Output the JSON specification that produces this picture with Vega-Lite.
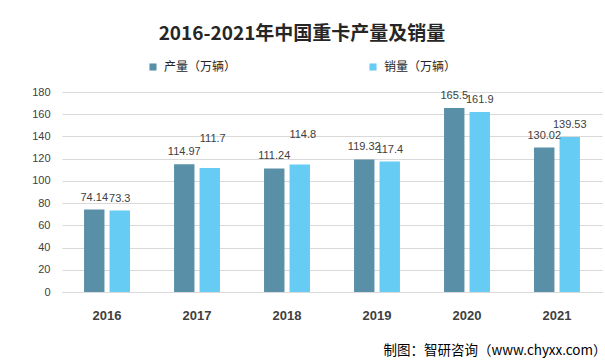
{
  "$schema": "https://vega.github.io/schema/vega-lite/v6.json",
  "width": 540,
  "height": 200,
  "autosize": {"type": "none"},
  "padding": {"left": 62, "top": 92, "right": 3, "bottom": 72},
  "background": "#ffffff",
  "title": {
    "text": "2016-2021年中国重卡产量及销量",
    "font": "Noto Sans CJK SC",
    "fontSize": 19,
    "fontWeight": "bold",
    "color": "#262626",
    "anchor": "middle",
    "frame": "group",
    "dx": -30,
    "offset": 17
  },
  "data": {
    "values": [
      {"year": "2016", "type": "产量（万辆）", "value": 74.14},
      {"year": "2016", "type": "销量（万辆）", "value": 73.3},
      {"year": "2017", "type": "产量（万辆）", "value": 114.97},
      {"year": "2017", "type": "销量（万辆）", "value": 111.7},
      {"year": "2018", "type": "产量（万辆）", "value": 111.24},
      {"year": "2018", "type": "销量（万辆）", "value": 114.8},
      {"year": "2019", "type": "产量（万辆）", "value": 119.32},
      {"year": "2019", "type": "销量（万辆）", "value": 117.4},
      {"year": "2020", "type": "产量（万辆）", "value": 165.5},
      {"year": "2020", "type": "销量（万辆）", "value": 161.9},
      {"year": "2021", "type": "产量（万辆）", "value": 130.02},
      {"year": "2021", "type": "销量（万辆）", "value": 139.53}
    ]
  },
  "encoding": {
    "x": {
      "field": "year",
      "type": "nominal",
      "scale": {"paddingInner": 0.433, "paddingOuter": 0.2167},
      "axis": {
        "title": "制图：智研咨询（www.chyxx.com）",
        "titleX": 544,
        "titleY": 58,
        "titleAlign": "right",
        "titleBaseline": "middle",
        "titleFont": "Noto Sans CJK SC",
        "titleFontSize": 13.5,
        "titleFontWeight": "normal",
        "titleColor": "#000000",
        "labelAngle": 0,
        "labelFont": "Liberation Sans",
        "labelFontSize": 13,
        "labelFontWeight": "bold",
        "labelColor": "#404040",
        "labelPadding": 17,
        "ticks": false,
        "domain": true,
        "domainColor": "#d9d9d9"
      }
    },
    "xOffset": {
      "field": "type",
      "type": "nominal",
      "sort": ["产量（万辆）", "销量（万辆）"],
      "scale": {"paddingInner": 0.2, "paddingOuter": 0.1}
    },
    "y": {
      "field": "value",
      "type": "quantitative",
      "scale": {"domain": [0, 180]},
      "axis": {
        "title": null,
        "values": [0, 20, 40, 60, 80, 100, 120, 140, 160, 180],
        "domain": false,
        "ticks": false,
        "grid": true,
        "gridColor": "#d9d9d9",
        "labelFont": "Liberation Sans",
        "labelFontSize": 11,
        "labelColor": "#404040",
        "labelPadding": 12
      }
    }
  },
  "layer": [
    {
      "mark": {"type": "bar"},
      "encoding": {
        "color": {
          "field": "type",
          "type": "nominal",
          "scale": {"domain": ["产量（万辆）", "销量（万辆）"], "range": ["#5A8FA8", "#66CCF4"]},
          "legend": {
            "title": null,
            "orient": "none",
            "direction": "horizontal",
            "legendX": 85,
            "legendY": -31,
            "padding": 0,
            "columnPadding": 130,
            "symbolType": "square",
            "symbolSize": 50,
            "symbolStrokeWidth": 0,
            "labelFont": "Noto Sans CJK SC",
            "labelFontSize": 12,
            "labelColor": "#262626",
            "labelOffset": 5
          }
        }
      }
    },
    {
      "transform": [{"filter": "!(datum.type == '销量（万辆）' && (datum.year == '2017' || datum.year == '2018'))"}],
      "mark": {
        "type": "text",
        "baseline": "bottom",
        "dy": -7,
        "font": "Liberation Sans",
        "fontSize": 11,
        "color": "#404040"
      },
      "encoding": {
        "text": {"field": "value", "type": "quantitative"}
      }
    },
    {
      "transform": [{"filter": "datum.type == '销量（万辆）' && (datum.year == '2017' || datum.year == '2018')"}],
      "mark": {
        "type": "text",
        "baseline": "bottom",
        "dy": -24,
        "dx": 3,
        "font": "Liberation Sans",
        "fontSize": 11,
        "color": "#404040"
      },
      "encoding": {
        "text": {"field": "value", "type": "quantitative"}
      }
    }
  ],
  "config": {
    "view": {"stroke": null}
  }
}
